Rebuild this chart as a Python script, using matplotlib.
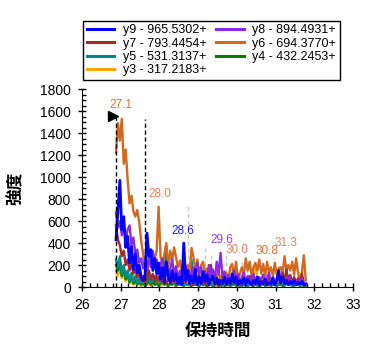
import matplotlib
matplotlib.use("Agg")
import matplotlib.pyplot as plt
from matplotlib.ticker import MultipleLocator

# retention times (min)
times = [26.88, 26.93, 26.98, 27.03, 27.08, 27.13, 27.18, 27.23, 27.28, 27.33,
         27.38, 27.43, 27.48, 27.53, 27.58, 27.63, 27.68, 27.73, 27.78, 27.83,
         27.88, 27.93, 27.98, 28.03, 28.08, 28.13, 28.18, 28.23, 28.28, 28.33,
         28.38, 28.43, 28.48, 28.53, 28.58, 28.63, 28.68, 28.73, 28.78, 28.83,
         28.88, 28.93, 28.98, 29.03, 29.08, 29.13, 29.18, 29.23, 29.28, 29.33,
         29.38, 29.43, 29.48, 29.53, 29.58, 29.63, 29.68, 29.73, 29.78, 29.83,
         29.88, 29.93, 29.98, 30.03, 30.08, 30.13, 30.18, 30.23, 30.28, 30.33,
         30.38, 30.43, 30.48, 30.53, 30.58, 30.63, 30.68, 30.73, 30.78, 30.83,
         30.88, 30.93, 30.98, 31.03, 31.08, 31.13, 31.18, 31.23, 31.28, 31.33,
         31.38, 31.43, 31.48, 31.53, 31.58, 31.63, 31.68, 31.73, 31.78]

y9 = [430, 700, 970, 520, 640, 360, 460, 220, 370, 160,
      300, 130, 200, 90, 60, 110, 490, 280, 340, 150,
      260, 120, 220, 70, 180, 40, 230, 90, 40, 150,
      60, 120, 30, 90, 20, 400, 60, 150, 30, 100,
      40, 160, 20, 90, 30, 140, 50, 110, 20, 70,
      100, 30, 80, 20, 60, 30, 90, 20, 70, 30,
      120, 40, 90, 20, 60, 30, 80, 20, 70, 40,
      20, 60, 30, 90, 20, 50, 30, 70, 20, 40,
      30, 80, 20, 60, 150, 40, 90, 30, 60, 20,
      50, 30, 60, 20, 40, 30, 50, 20, 30]

y8 = [680, 540, 600, 470, 560, 430, 520, 560, 380, 450,
      300, 340, 220, 260, 170, 230, 150, 280, 180, 330,
      200, 250, 120, 200, 260, 140, 200, 90, 160, 250,
      110, 190, 80, 150, 60, 120, 190, 80, 140, 60,
      180, 90, 220, 120, 180, 70, 140, 60, 200, 100,
      160, 60, 230, 120, 310, 90, 140, 50, 110, 40,
      90, 150, 60, 120, 40, 90, 130, 50, 100, 30,
      80, 120, 50, 90, 30, 70, 110, 40, 80, 130,
      50, 90, 30, 70, 110, 40, 80, 30, 60, 100,
      40, 70, 30, 60, 20, 50, 80, 30, 20]

y7 = [560, 430, 380, 280, 330, 200, 250, 150, 220, 120,
      160, 90, 130, 60, 100, 40, 80, 150, 70, 120,
      50, 100, 60, 140, 40, 90, 30, 80, 120, 40,
      70, 30, 90, 50, 20, 70, 40, 100, 30, 60,
      20, 80, 40, 110, 30, 70, 20, 60, 60, 200,
      50, 90, 30, 70, 20, 60, 100, 30, 60, 20,
      50, 90, 30, 70, 20, 50, 80, 30, 60, 100,
      40, 70, 20, 60, 90, 30, 60, 20, 50, 80,
      30, 60, 20, 50, 90, 30, 130, 60, 160, 50,
      110, 40, 90, 30, 80, 40, 120, 30, 20]

y6 = [1220, 1490, 1330, 1530, 1120, 1250, 980, 760, 830, 690,
      640, 700, 590, 420, 300, 160, 90, 250, 330, 300,
      250, 330, 730, 280, 210, 300, 400, 180, 330, 240,
      360, 270, 180, 240, 130, 210, 120, 200, 130, 355,
      270, 150, 250, 110, 200, 230, 120, 170, 90, 150,
      60, 130, 80, 150, 60, 110, 40, 130, 50, 180,
      210, 90, 230, 60, 120, 180, 110, 260, 150, 230,
      100, 180, 220, 150, 250, 120, 210, 90, 230, 130,
      180, 100, 220, 110, 170, 180, 120, 280, 150, 200,
      150, 230, 110, 260, 130, 60, 140, 290, 60]

y5 = [250, 180, 280, 120, 200, 90, 150, 60, 130, 50,
      100, 40, 80, 30, 60, 20, 50, 90, 40, 60,
      100, 40, 80, 30, 70, 150, 320, 90, 60, 30,
      50, 20, 60, 30, 50, 20, 40, 20, 60, 250,
      40, 20, 50, 20, 40, 15, 30, 60, 20, 40,
      15, 30, 50, 20, 30, 15, 40, 20, 30, 10,
      30, 50, 20, 30, 10, 40, 20, 30, 10, 30,
      50, 20, 30, 10, 40, 20, 30, 10, 30, 20,
      60, 20, 30, 10, 40, 20, 30, 10, 50, 20,
      30, 10, 40, 20, 30, 10, 20, 30, 10]

y4 = [200, 150, 220, 100, 160, 70, 120, 40, 90, 30,
      70, 20, 50, 20, 40, 10, 30, 60, 20, 50,
      20, 40, 10, 30, 50, 20, 40, 10, 30, 20,
      40, 10, 30, 20, 40, 10, 30, 20, 30, 10,
      30, 20, 40, 10, 30, 20, 30, 10, 20, 30,
      10, 20, 30, 10, 20, 30, 10, 20, 30, 10,
      20, 30, 10, 20, 30, 10, 20, 30, 10, 20,
      30, 10, 20, 30, 10, 20, 30, 10, 20, 30,
      10, 20, 30, 10, 20, 30, 10, 20, 30, 60,
      20, 40, 10, 30, 20, 60, 20, 10, 10]

y3 = [150, 100, 180, 80, 130, 50, 100, 40, 70, 20,
      50, 20, 40, 10, 30, 60, 20, 40, 10, 30,
      60, 20, 40, 10, 30, 20, 50, 10, 30, 20,
      40, 10, 30, 20, 50, 10, 30, 20, 40, 10,
      30, 20, 40, 10, 30, 50, 20, 40, 10, 30,
      20, 40, 10, 30, 20, 50, 20, 40, 10, 30,
      60, 20, 40, 10, 30, 20, 50, 20, 40, 80,
      40, 110, 200, 90, 40, 20, 50, 20, 40, 10,
      30, 20, 40, 10, 30, 20, 40, 10, 30, 20,
      40, 10, 30, 20, 40, 10, 20, 10, 10]

names = ["y9 - 965.5302+", "y8 - 894.4931+", "y7 - 793.4454+", "y6 - 694.3770+",
         "y5 - 531.3137+", "y4 - 432.2453+", "y3 - 317.2183+"]
series = [y9, y8, y7, y6, y5, y4, y3]
colors = ["#0000ff", "#8a2be2", "#a52a2a", "#d2691e", "#008b8b", "#008000", "#ffa500"]

# peak labels
peak_text = ["27.1", "28.0", "28.6", "29.6", "30.0", "30.8", "31.3"]
peak_rt = [27.01, 28.0, 28.6, 29.62, 30.0, 30.77, 31.26]
peak_height = [1540, 736, 400, 310, 222, 218, 282]
peak_color = ["#e0702e", "#e8825e", "#1a1aff", "#9933ff", "#e8825e", "#e0702e", "#e8825e"]

# integration boundaries and other marks
bound_rt = [26.87, 27.63]
bound_top = [1545, 1530]
gray_rt = [28.73, 29.19, 29.32, 29.72, 29.84, 30.13, 30.26, 30.97, 31.72]
gray_top = [736, 382, 318, 290, 218, 245, 218, 264, 282]

plt.rcParams['font.family'] = ['Liberation Sans', 'DejaVu Sans']

fig = plt.figure(figsize=(3.74, 3.51), dpi=100)
ax = fig.add_axes([0.219, 0.1823, 0.725, 0.564])

for rt, top in zip(gray_rt, gray_top):
    ax.plot([rt, rt], [0, top], color="#c8c8c8", lw=1, ls=(0, (3, 2)), zorder=1)

# draw in reverse order so y9 ends on top
lines = {}
for name, vals, c in reversed(list(zip(names, series, colors))):
    lw = 2.0 if name.startswith("y9") else 1.7
    ln, = ax.plot(times, vals, color=c, lw=lw, zorder=2)
    lines[name] = ln

for rt, top in zip(bound_rt, bound_top):
    ax.plot([rt, rt], [0, top], color="black", lw=1, ls=(0, (3, 2)), zorder=3)
ax.plot([26.79], [1555], marker=">", color="black", markersize=6.5, zorder=4)

for txt, rt, h, c in zip(peak_text, peak_rt, peak_height, peak_color):
    ax.annotate(txt, (rt, h), xytext=(0, 9), textcoords="offset points",
                ha="center", va="center", color=c, fontsize=8.5, zorder=5)

ax.set_xlim(26, 33)
ax.set_ylim(0, 1800)
ax.xaxis.set_major_locator(MultipleLocator(1))
ax.xaxis.set_minor_locator(MultipleLocator(0.2))
ax.yaxis.set_major_locator(MultipleLocator(200))
ax.yaxis.set_minor_locator(MultipleLocator(50))
ax.tick_params(which="major", direction="inout", length=6, width=1, labelsize=10)
ax.tick_params(axis="y", which="major", pad=5)
ax.tick_params(axis="x", which="major", pad=5)
ax.tick_params(which="minor", direction="in", length=3, width=1)
ax.spines["top"].set_visible(False)
ax.spines["right"].set_visible(False)

cjk = ["Noto Sans CJK JP", "DejaVu Sans"]
ax.set_xlabel("保持時間", family=cjk, fontweight="bold", fontsize=12, labelpad=7)
ax.set_ylabel("強度", family=cjk, fontweight="bold", fontsize=12, labelpad=11)

order = ["y9 - 965.5302+", "y7 - 793.4454+", "y5 - 531.3137+", "y3 - 317.2183+",
         "y8 - 894.4931+", "y6 - 694.3770+", "y4 - 432.2453+"]
leg = fig.legend([lines[n] for n in order], order, ncol=2, loc="upper left",
                 bbox_to_anchor=(0.222, 0.941), bbox_transform=fig.transFigure,
                 borderaxespad=0, fontsize=9, handlelength=2.2, handletextpad=0.7,
                 columnspacing=0.75, labelspacing=0.1, borderpad=0.3,
                 fancybox=False, framealpha=1, edgecolor="black")
leg.get_frame().set_linewidth(1)
for h in leg.get_lines():
    h.set_linewidth(2.2)

fig.savefig("out.png", dpi=100)
